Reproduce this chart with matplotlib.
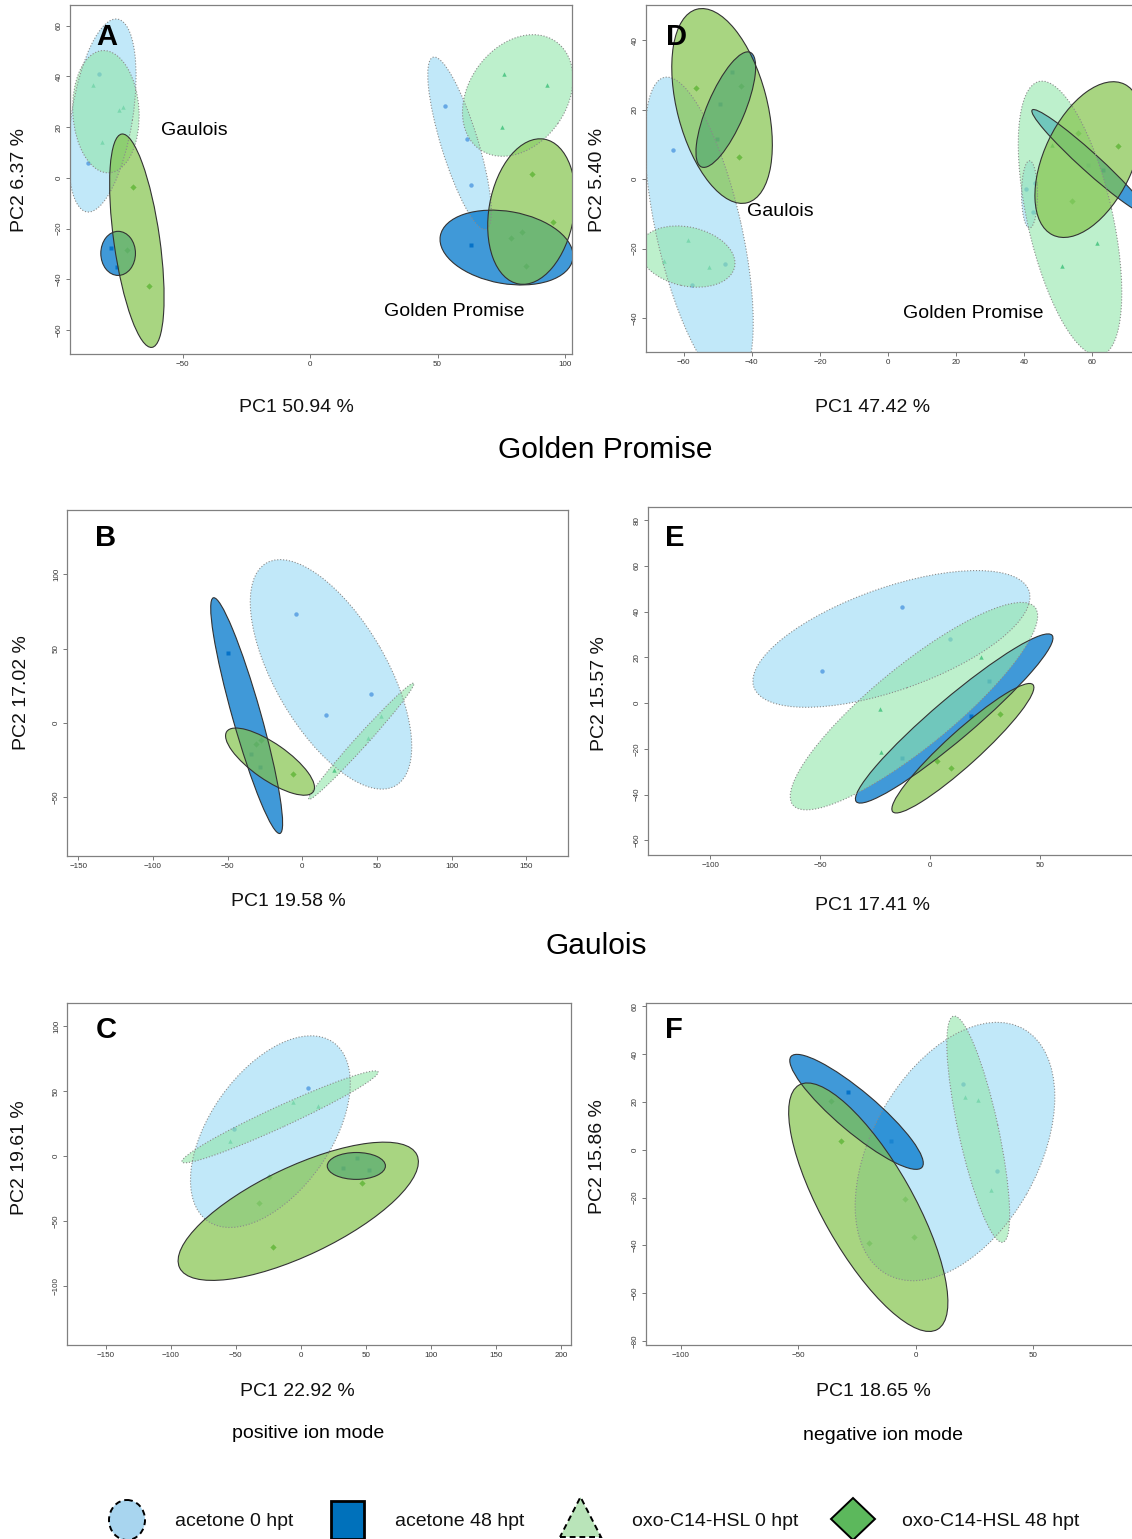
import numpy as np
import matplotlib
matplotlib.use("Agg")
import matplotlib.pyplot as plt
from matplotlib.patches import Ellipse, Rectangle, Polygon

plt.rcParams['font.family'] = ['Liberation Sans', 'DejaVu Sans']

W, H = 1132, 1539

# groups and their look
groups = ["acetone 0 hpt", "acetone 48 hpt", "oxo-C14-HSL 0 hpt", "oxo-C14-HSL 48 hpt"]
fill = ["#99daf5", "#0077cc", "#91e6aa", "#84c44c"]
fill_alpha = [0.6, 0.75, 0.6, 0.7]
edge = ["#8a8a8a", "#333333", "#8a8a8a", "#333333"]
edge_ls = [":", "-", ":", "-"]
pt_color = ["#1a5fcf", "#1565c0", "#00a05a", "#3aa835"]
pt_marker = ["o", "s", "^", "D"]
legend_fill = ["#a8d5ef", "#0071bb", "#b9e4b9", "#5cb85c"]

# scores per panel, one list per group (same order as groups)
A_pts = [
    [(-83.1, 41.0), (-87.2, 5.9), (52.9, 28.5), (61.5, 15.3), (63.0, -3.0)],
    [(-78.1, -27.7), (-75.9, -35.1), (63.0, -26.6)],
    [(-85.1, 36.5), (-81.9, 14.0), (-74.9, 26.9), (-73.5, 27.9), (76.1, 40.8), (93.0, 36.5), (75.2, 19.9)],
    [(-69.5, -3.7), (-72.0, -28.5), (-63.1, -42.6), (87.0, 1.7), (95.5, -17.4), (83.1, -21.4), (79.0, -23.6), (84.8, -34.8)],
]
D_pts = [
    [(-63.3, 8.3), (-47.9, -24.3), (-57.6, -30.6), (40.6, -2.8), (42.6, -9.5), (43.2, -1.0)],
    [(-49.5, 21.8), (-45.8, 30.8), (-50.2, 11.7), (58.7, 4.1), (63.1, 2.6)],
    [(-58.9, -17.4), (-65.9, -23.7), (-52.5, -25.3), (48.1, 9.8), (51.0, -24.9), (61.3, -18.3)],
    [(-56.4, 26.3), (-43.2, 26.9), (-43.8, 6.4), (55.8, 13.4), (67.7, 9.7), (54.0, -6.2)],
]
B_pts = [
    [(-4.0, 73.4), (46.0, 19.3), (15.7, 5.1)],
    [(-49.7, 47.2), (-34.3, -21.0), (-28.3, -29.5)],
    [(52.9, 4.9), (44.2, -9.9), (21.1, -31.3)],
    [(-27.6, -11.2), (-31.3, -14.3), (-6.0, -34.3)],
]
E_pts = [
    [(-49.3, 14.1), (-13.0, 41.9), (9.1, 28.1)],
    [(26.7, 9.9), (18.4, -5.4), (-13.0, -24.1)],
    [(23.3, 20.4), (-22.9, -2.5), (-22.2, -21.4)],
    [(31.7, -4.8), (3.2, -25.5), (9.6, -28.4)],
]
C_pts = [
    [(5.4, 52.6), (-51.6, 20.8)],
    [(42.8, -1.8), (32.2, -9.5), (52.5, -10.8)],
    [(-5.7, 41.3), (13.1, 38.5), (-54.8, 11.5)],
    [(-24.2, -16.2), (-32.5, -36.4), (-21.1, -69.7), (47.1, -21.0)],
]
F_pts = [
    [(20.2, 27.4), (34.5, -9.0)],
    [(-28.8, 24.3), (-10.8, 3.5)],
    [(21.0, 21.9), (26.5, 21.0), (32.1, -16.7)],
    [(-36.3, 20.6), (-32.1, 3.7), (-4.6, -20.7), (-0.9, -36.4), (-20.1, -38.9)],
]

# confidence ellipses: group index, centre x, centre y, major, minor, angle
A_ell = [(0, -81.65, 24.6, 77, 24, 81), (0, 58.65, 13.65, 71, 14.5, 107),
         (1, -75.4, -29.8, 13.6, 17.4, 0), (1, 77.1, -27.5, 52.8, 28.5, -10),
         (2, -80.2, 26.1, 48.3, 26, 93), (2, 81.5, 32.5, 52, 38.5, 55),
         (3, -68.05, -24.8, 85, 18, 98), (3, 86.9, -13.3, 58, 33.4, 80)]
D_ell = [(0, -55.5, -15, 91, 25, 103), (0, 41.6, -4.4, 19.4, 4.7, 90),
         (1, -47.65, 20.05, 36, 11, 66.5), (1, 59.2, 5, 45, 5.5, -41.6),
         (2, -59, -22.3, 28.5, 17, -12), (2, 53.5, -11.3, 81, 25, 103),
         (3, -48.75, 21.1, 57.7, 26.4, 105), (3, 58.95, 5.65, 48.3, 26, 64)]
B_ell = [(0, 19.25, 32.7, 173, 75, 120), (1, -37.25, 4.95, 164.7, 19, 105.7),
         (2, 39.55, -12.3, 105, 8, 48), (3, -21.6, -26, 70.7, 24.4, -35)]
E_ell = [(0, -17.6, 28.1, 132, 45, 18.5), (1, 10.95, -6.7, 115, 18, 39.2),
         (2, -7.35, -1.3, 140, 36, 38), (3, 14.9, -19.7, 84.6, 15, 41)]
C_ell = [(0, -23.4, 18.85, 168, 93, 55), (1, 42.65, -7.55, 44.7, 20.7, 0),
         (2, -16, 30.25, 165.8, 16, 24.7), (3, -2, -42.45, 202, 68, 25.5)]
F_ell = [(0, 16.6, -0.75, 118, 70.6, 60), (1, -25.3, 15.85, 72.5, 17, -39.7),
         (2, 26.5, 8.6, 96.9, 17, 102.5), (3, -20.3, -24.05, 118, 38.5, 120)]

pc1_lab = {"A": "PC1 50.94 %", "D": "PC1 47.42 %", "B": "PC1 19.58 %",
           "E": "PC1 17.41 %", "C": "PC1 22.92 %", "F": "PC1 18.65 %"}
pc2_lab = {"A": "PC2 6.37 %", "D": "PC2 5.40 %", "B": "PC2 17.02 %",
           "E": "PC2 15.57 %", "C": "PC2 19.61 %", "F": "PC2 15.86 %"}
xticks = {"A": [-50, 0, 50, 100], "D": [-60, -40, -20, 0, 20, 40, 60],
          "B": [-150, -100, -50, 0, 50, 100, 150], "E": [-100, -50, 0, 50],
          "C": [-150, -100, -50, 0, 50, 100, 150, 200], "F": [-100, -50, 0, 50]}
yticks = {"A": [-60, -40, -20, 0, 20, 40, 60], "D": [-40, -20, 0, 20, 40],
          "B": [-50, 0, 50, 100], "E": [-60, -40, -20, 0, 20, 40, 60, 80],
          "C": [-100, -50, 0, 50, 100], "F": [-80, -60, -40, -20, 0, 20, 40, 60]}
xlims = {"A": (-94.3, 102.8), "D": (-71.1, 77), "B": (-157.6, 178),
         "E": (-128.3, 100), "C": (-179.7, 207.6), "F": (-114.9, 99.6)}
ylims = {"A": (-69.5, 68.2), "D": (-49.8, 50.2), "B": (-89.5, 143.3),
         "E": (-66.4, 85.8), "C": (-145.4, 117.9), "F": (-81.7, 61.4)}
points = {"A": A_pts, "D": D_pts, "B": B_pts, "E": E_pts, "C": C_pts, "F": F_pts}
ellipses = {"A": A_ell, "D": D_ell, "B": B_ell, "E": E_ell, "C": C_ell, "F": F_ell}

# layout in pixels: axes box (l, t, r, b), xlabel centre, ylabel centre, letter centre
layout = {
    "A": ((70, 5, 572, 354), (296, 408), (20, 180), (107, 37)),
    "D": ((646, 5, 1150, 352), (873, 408), (598, 180), (676, 37)),
    "B": ((67, 510, 568, 856), (288, 901), (22, 693), (106, 538)),
    "E": ((648, 507, 1150, 855), (873, 905), (600, 694), (675, 538)),
    "C": ((67, 1003, 571, 1345), (297, 1391), (20, 1158), (106, 1030)),
    "F": ((646, 1003, 1150, 1345), (873, 1391), (598, 1157), (674, 1030)),
}

fig = plt.figure(figsize=(W / 100, H / 100), dpi=100)


def fx(x):
    return x / W


def fy(y):
    return 1 - y / H


for key in ["A", "D", "B", "E", "C", "F"]:
    (l, t, r, b), xl, yl, let = layout[key]
    ax = fig.add_axes([l / W, 1 - b / H, (r - l) / W, (b - t) / H])
    for g, pts in enumerate(points[key]):
        arr = np.array(pts)
        ax.plot(arr[:, 0], arr[:, 1], ls="none", marker=pt_marker[g], ms=3.2,
                color=pt_color[g], mec="none", zorder=1)
    for g, cx, cy, w, h, ang in ellipses[key]:
        ax.add_patch(Ellipse((cx, cy), w, h, angle=ang, facecolor=fill[g],
                             alpha=fill_alpha[g], edgecolor="none", zorder=2))
        ax.add_patch(Ellipse((cx, cy), w, h, angle=ang, facecolor="none",
                             edgecolor=edge[g], ls=edge_ls[g], lw=0.8, zorder=3))
    ax.set_xlim(*xlims[key])
    ax.set_ylim(*ylims[key])
    ax.set_xticks(xticks[key])
    ax.set_yticks(yticks[key])
    ax.tick_params(labelsize=5.8, length=3, width=0.7, color="#777777",
                   labelcolor="#333333", pad=2)
    for lab in ax.get_yticklabels():
        lab.set_rotation(90)
        lab.set_va("center")
    for s in ax.spines.values():
        s.set_color("#808080")
        s.set_linewidth(0.9)
    ax.set_xlabel(pc1_lab[key], fontsize=14, color="#111111")
    ax.set_ylabel(pc2_lab[key], fontsize=14, color="#111111")
    ax.xaxis.label.set_va("center")
    ax.yaxis.label.set_va("center")
    ax.xaxis.set_label_coords((xl[0] - l) / (r - l), (b - xl[1]) / (b - t))
    ax.yaxis.set_label_coords((yl[0] - l) / (r - l), (b - yl[1]) / (b - t))
    fig.text(fx(let[0]), fy(let[1]), key, fontsize=21, fontweight="bold",
             ha="center", va="center")
    if key == "A":
        ax.text(-45.5, 18.8, "Gaulois", fontsize=14, ha="center", va="center", zorder=5)
        ax.text(56.4, -52.9, "Golden Promise", fontsize=14, ha="center", va="center", zorder=5)
    if key == "D":
        ax.text(-31.7, -9.2, "Gaulois", fontsize=14, ha="center", va="center", zorder=5)
        ax.text(25.0, -38.6, "Golden Promise", fontsize=14, ha="center", va="center", zorder=5)

fig.text(fx(605), fy(450), "Golden Promise", fontsize=21.5, ha="center", va="center")
fig.text(fx(596), fy(946), "Gaulois", fontsize=21.5, ha="center", va="center")
fig.text(fx(308), fy(1433), "positive ion mode", fontsize=14, ha="center", va="center")
fig.text(fx(883), fy(1436), "negative ion mode", fontsize=14, ha="center", va="center")

# legend row drawn in pixel units
lg = fig.add_axes([0, 0, 1, 49 / H])
lg.set_xlim(0, W)
lg.set_ylim(H, H - 49)
lg.axis("off")
lg.add_patch(Ellipse((127, 1520), 36, 40, facecolor=legend_fill[0],
                     edgecolor="black", ls=(0, (3, 2)), lw=1.4))
lg.add_patch(Rectangle((331, 1501), 33, 38, facecolor=legend_fill[1],
                       edgecolor="black", lw=2))
lg.add_patch(Polygon([(560, 1537), (601, 1537), (580.5, 1497)], closed=True,
                     facecolor=legend_fill[2], edgecolor="black", ls=(0, (3, 2)), lw=1.4))
lg.add_patch(Polygon([(853, 1498), (875, 1519), (853, 1540), (831, 1519)], closed=True,
                     facecolor=legend_fill[3], edgecolor="black", lw=1.4))
for xt, name in zip([175, 395, 632, 902], groups):
    lg.text(xt, 1522, name, fontsize=14, ha="left", va="center", color="#111111")

fig.savefig("out.png", dpi=100)
